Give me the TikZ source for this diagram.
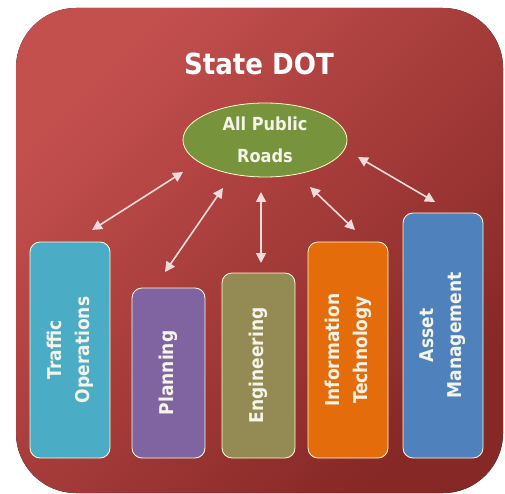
\documentclass[tikz,border=0pt]{standalone}
\usepackage{fontspec}
\setmainfont{DejaVu Sans Condensed}
\usetikzlibrary{arrows.meta,shapes.geometric}
\definecolor{bglight}{HTML}{C4504E}
\definecolor{bgdark}{HTML}{862826}
\definecolor{ctraffic}{HTML}{4BACC6}
\definecolor{cplan}{HTML}{8064A2}
\definecolor{ceng}{HTML}{948A54}
\definecolor{cit}{HTML}{E46C0A}
\definecolor{casset}{HTML}{4F81BD}
\definecolor{cgreen}{HTML}{77933C}
\definecolor{txtlight}{HTML}{F4F4E8}
\definecolor{arrowc}{HTML}{F2DCDB}
\tikzset{
  dept/.style={draw=white!85!yellow, line width=0.8pt, rounded corners=10pt, rotate=90,
    text=txtlight, font=\bfseries\fontsize{19}{28}\selectfont, align=center, inner sep=0pt},
  link/.style={draw=arrowc, line width=1.6pt, {Triangle[length=10pt,width=10pt]}-{Triangle[length=10pt,width=10pt]}}
}
\begin{document}
\begin{tikzpicture}[x=1pt,y=-1pt]
\useasboundingbox (0,0) rectangle (505,494);
\fill[rounded corners=60pt, left color=bglight, right color=bgdark, shading angle=45] (16,8) rectangle (503,493);
\node[text=white, font=\bfseries\fontsize{29}{34}\selectfont] (title) at (259,64) {State DOT};
\node[ellipse, draw=white!80!yellow, line width=0.8pt, fill=cgreen, minimum width=164pt, minimum height=74pt,
  text=txtlight, font=\bfseries\fontsize{18}{32}\selectfont, align=center, inner sep=0pt] (roads) at (265,140) {All Public\\Roads};
\node[dept, fill=ctraffic, minimum width=216pt, minimum height=80pt] (traffic) at (70,350) {Traffic\\Operations};
\node[dept, fill=cplan, minimum width=170pt, minimum height=73pt] (plan) at (168.5,373) {Planning};
\node[dept, fill=ceng, minimum width=185pt, minimum height=73pt] (eng) at (258.5,365.5) {Engineering};
\node[dept, fill=cit, minimum width=216pt, minimum height=80pt] (it) at (348,350) {Information\\Technology};
\node[dept, fill=casset, minimum width=245pt, minimum height=80pt] (asset) at (443,335.5) {Asset\\Management};
\coordinate (a1) at (92,230); \coordinate (b1) at (183,172);
\coordinate (a2) at (165,272); \coordinate (b2) at (223,188);
\coordinate (a3) at (261,263); \coordinate (b3) at (261,192);
\coordinate (a4) at (355,230); \coordinate (b4) at (310,187);
\coordinate (a5) at (435,202); \coordinate (b5) at (358,157);
\draw[link] (a1) -- (b1);
\draw[link] (a2) -- (b2);
\draw[link] (a3) -- (b3);
\draw[link] (a4) -- (b4);
\draw[link] (a5) -- (b5);
\end{tikzpicture}
\end{document}
